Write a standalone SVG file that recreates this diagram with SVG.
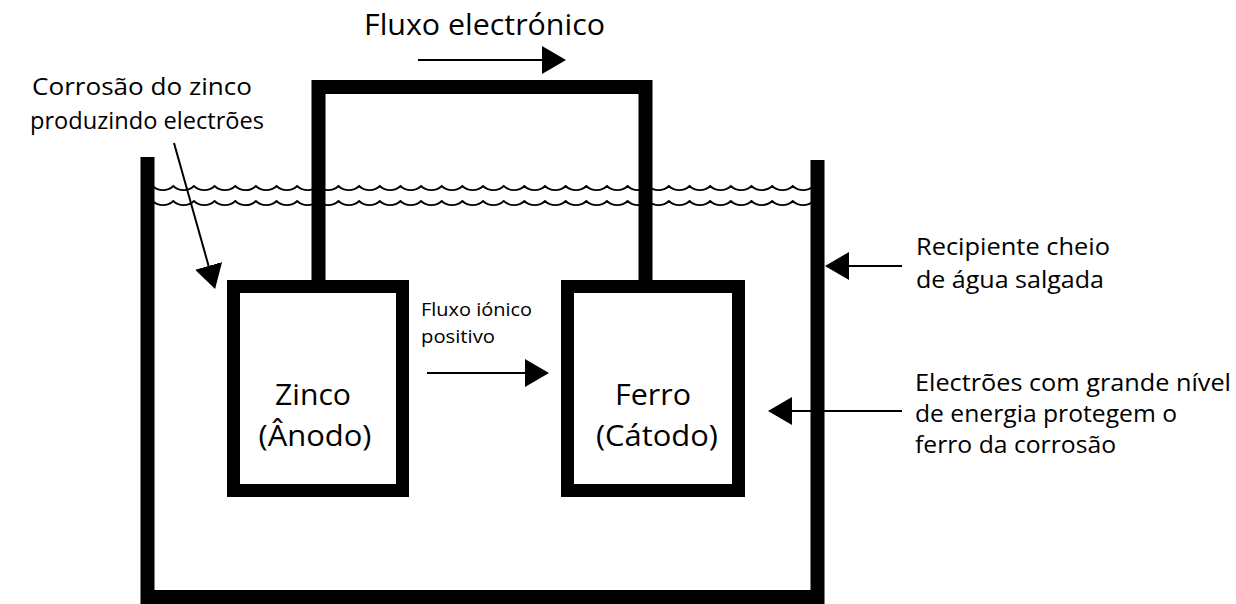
<svg xmlns="http://www.w3.org/2000/svg" width="1236" height="604" viewBox="0 0 1236 604">
<style>
.t{font-family:"Open Sans","Noto Sans","Liberation Sans",sans-serif;fill:#000;}
.thick{fill:none;stroke:#000;stroke-linejoin:miter;}
.arr{stroke:#000;stroke-width:2;fill:none;}
.wave{fill:none;stroke:#000;stroke-width:1.8;}
</style>
<defs>
<marker id="ah" markerUnits="userSpaceOnUse" markerWidth="26" markerHeight="30" refX="0" refY="14" orient="auto" viewBox="0 0 26 30">
<path d="M0,0 L24,14 L0,28 Z" fill="#000"/>
</marker>
</defs>
<rect width="1236" height="604" fill="#fff"/>
<g id="water">
<path class="wave" d="M152.65,186 a15 15 0 0 0 20.65 0 a15 15 0 0 0 20.65 0 a15 15 0 0 0 20.65 0 a15 15 0 0 0 20.65 0 a15 15 0 0 0 20.65 0 a15 15 0 0 0 20.65 0 a15 15 0 0 0 20.65 0 a15 15 0 0 0 20.65 0 a15 15 0 0 0 20.65 0 a15 15 0 0 0 20.65 0 a15 15 0 0 0 20.65 0 a15 15 0 0 0 20.65 0 a15 15 0 0 0 20.65 0 a15 15 0 0 0 20.65 0 a15 15 0 0 0 20.65 0 a15 15 0 0 0 20.65 0 a15 15 0 0 0 20.65 0 a15 15 0 0 0 20.65 0 a15 15 0 0 0 20.65 0 a15 15 0 0 0 20.65 0 a15 15 0 0 0 20.65 0 a15 15 0 0 0 20.65 0 a15 15 0 0 0 20.65 0 a15 15 0 0 0 20.65 0 a15 15 0 0 0 20.65 0 a15 15 0 0 0 20.65 0 a15 15 0 0 0 20.65 0 a15 15 0 0 0 20.65 0 a15 15 0 0 0 20.65 0 a15 15 0 0 0 20.65 0 a15 15 0 0 0 20.65 0 a15 15 0 0 0 20.65 0"/>
<path class="wave" d="M152.65,201 a15 15 0 0 0 20.65 0 a15 15 0 0 0 20.65 0 a15 15 0 0 0 20.65 0 a15 15 0 0 0 20.65 0 a15 15 0 0 0 20.65 0 a15 15 0 0 0 20.65 0 a15 15 0 0 0 20.65 0 a15 15 0 0 0 20.65 0 a15 15 0 0 0 20.65 0 a15 15 0 0 0 20.65 0 a15 15 0 0 0 20.65 0 a15 15 0 0 0 20.65 0 a15 15 0 0 0 20.65 0 a15 15 0 0 0 20.65 0 a15 15 0 0 0 20.65 0 a15 15 0 0 0 20.65 0 a15 15 0 0 0 20.65 0 a15 15 0 0 0 20.65 0 a15 15 0 0 0 20.65 0 a15 15 0 0 0 20.65 0 a15 15 0 0 0 20.65 0 a15 15 0 0 0 20.65 0 a15 15 0 0 0 20.65 0 a15 15 0 0 0 20.65 0 a15 15 0 0 0 20.65 0 a15 15 0 0 0 20.65 0 a15 15 0 0 0 20.65 0 a15 15 0 0 0 20.65 0 a15 15 0 0 0 20.65 0 a15 15 0 0 0 20.65 0 a15 15 0 0 0 20.65 0 a15 15 0 0 0 20.65 0"/>
</g>
<g id="container">
<polyline class="thick" stroke-width="14" points="147.5,157 147.5,597 817.5,597 817.5,160"/>
</g>
<g id="wire">
<polyline class="thick" stroke-width="14" points="318.5,281 318.5,87 645.5,87 645.5,281"/>
</g>
<g id="zinco">
<rect class="thick" stroke-width="13" x="233.5" y="286.5" width="169" height="204"/>
<text class="t" x="313" y="405" font-size="29" text-anchor="middle" textLength="76" lengthAdjust="spacingAndGlyphs">Zinco</text>
<text class="t" x="315" y="446" font-size="29" text-anchor="middle" textLength="113" lengthAdjust="spacingAndGlyphs">(Ânodo)</text>
</g>
<g id="ferro">
<rect class="thick" stroke-width="13" x="567.5" y="286.5" width="171" height="204"/>
<text class="t" x="653" y="405" font-size="29" text-anchor="middle" textLength="76" lengthAdjust="spacingAndGlyphs">Ferro</text>
<text class="t" x="657" y="446" font-size="29" text-anchor="middle" textLength="122" lengthAdjust="spacingAndGlyphs">(Cátodo)</text>
</g>
<g id="connectors">
<line class="arr" x1="418" y1="60" x2="542" y2="60" marker-end="url(#ah)"/>
<line class="arr" x1="427" y1="373" x2="525" y2="373" marker-end="url(#ah)"/>
<line class="arr" x1="902" y1="266" x2="849" y2="266" marker-end="url(#ah)"/>
<line class="arr" x1="902" y1="411" x2="792" y2="411" marker-end="url(#ah)"/>
<line class="arr" x1="174" y1="143" x2="208.6" y2="265.9" marker-end="url(#ah)"/>
</g>
<g id="labels">
<text class="t" x="364" y="35" font-size="30" textLength="241" lengthAdjust="spacingAndGlyphs">Fluxo electrónico</text>
<text class="t" x="32" y="95" font-size="24" textLength="220" lengthAdjust="spacingAndGlyphs">Corrosão do zinco</text>
<text class="t" x="30" y="129" font-size="24" textLength="234" lengthAdjust="spacingAndGlyphs">produzindo electrões</text>
<text class="t" x="421" y="316" font-size="18" textLength="111" lengthAdjust="spacingAndGlyphs">Fluxo iónico</text>
<text class="t" x="421" y="343" font-size="18" textLength="74" lengthAdjust="spacingAndGlyphs">positivo</text>
<text class="t" x="916" y="255" font-size="24" textLength="194" lengthAdjust="spacingAndGlyphs">Recipiente cheio</text>
<text class="t" x="916" y="288" font-size="24" textLength="188" lengthAdjust="spacingAndGlyphs">de água salgada</text>
<text class="t" x="915" y="391" font-size="24" textLength="316" lengthAdjust="spacingAndGlyphs">Electrões com grande nível</text>
<text class="t" x="915" y="422" font-size="24" textLength="262" lengthAdjust="spacingAndGlyphs">de energia protegem o</text>
<text class="t" x="915" y="453" font-size="24" textLength="201" lengthAdjust="spacingAndGlyphs">ferro da corrosão</text>
</g>
</svg>
